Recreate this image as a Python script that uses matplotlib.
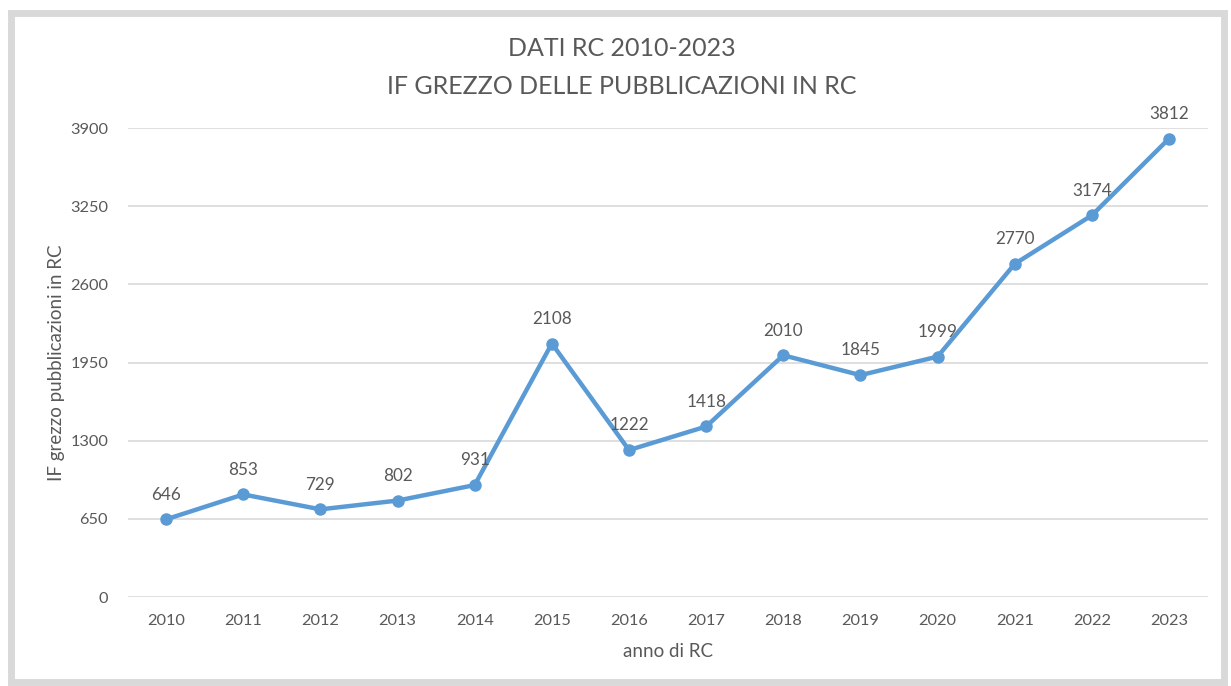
import matplotlib.pyplot as plt
from matplotlib.patches import Rectangle

years = ["2010", "2011", "2012", "2013", "2014", "2015", "2016",
         "2017", "2018", "2019", "2020", "2021", "2022", "2023"]
if_values = [646, 853, 729, 802, 931, 2108, 1222, 1418, 2010, 1845, 1999, 2770, 3174, 3812]
y_ticks = [0, 650, 1300, 1950, 2600, 3250, 3900]

blue = "#5B9BD5"
gray = "#595959"

plt.rcParams['font.family'] = ['Lato', 'DejaVu Sans']

fig = plt.figure(figsize=(12.31, 6.86), dpi=100)
ax = fig.add_axes([0.1036, 0.1297, 0.8774, 0.6837])

x = list(range(len(years)))
ax.plot(x, if_values, color=blue, linewidth=3.2, marker="o", markersize=8,
        solid_capstyle="round", zorder=3)
for xi, v in zip(x, if_values):
    ax.annotate(str(v), (xi, v), xytext=(0, 12), textcoords="offset points",
                ha="center", va="bottom", fontsize=12.3, color=gray)

ax.set_xlim(-0.5, len(years) - 0.5)
ax.set_ylim(0, 3900)
ax.set_xticks(x)
ax.set_xticklabels(years)
ax.set_yticks(y_ticks)
ax.grid(axis="y", color="#D9D9D9", linewidth=1.2)
ax.set_axisbelow(True)
for s in ax.spines.values():
    s.set_visible(False)
ax.tick_params(axis="both", length=0, labelsize=11.8, labelcolor=gray)
ax.tick_params(axis="y", pad=14)
ax.tick_params(axis="x", pad=12)

ax.set_xlabel("anno di RC", fontsize=13.5, color=gray, labelpad=11)
ax.set_ylabel("IF grezzo pubblicazioni in RC", fontsize=13.5, color=gray, labelpad=4)

fig.text(0.505, 0.929, "DATI RC 2010-2023", ha="center", va="center",
         fontsize=18, color=gray)
fig.text(0.505, 0.874, "IF GREZZO DELLE PUBBLICAZIONI IN RC", ha="center",
         va="center", fontsize=18, color=gray)

# chart frame with shadow
fig.patches.append(Rectangle((0.009, 0.006), 0.985, 0.975, transform=fig.transFigure,
                             fill=False, edgecolor="#D9D9D9", linewidth=5, zorder=0))

fig.savefig("out.png", dpi=100, facecolor="white")
